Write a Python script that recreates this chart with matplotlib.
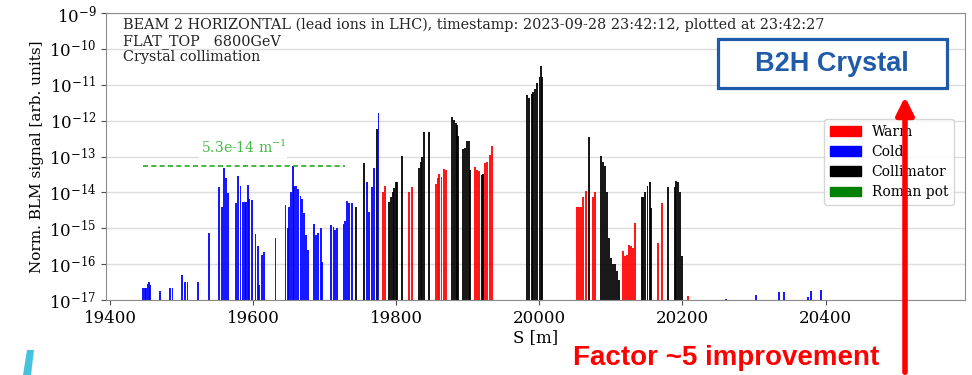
import matplotlib
matplotlib.use("Agg")
import matplotlib.pyplot as plt
from matplotlib.patches import Patch, Rectangle, Polygon, FancyArrowPatch

plt.rcParams['font.family'] = ['DejaVu Serif']
plt.rcParams['mathtext.fontset'] = 'dejavuserif'

# BLM losses along the ring: position S [m] and normalised signal
cold_s = [19446, 19448, 19450, 19452, 19454, 19456, 19470, 19484, 19487, 19500,
          19505, 19508, 19523, 19538, 19552, 19556, 19559, 19562, 19565, 19576,
          19579, 19582, 19586, 19588, 19590, 19592, 19594, 19598, 19603, 19606,
          19608, 19612, 19615, 19631, 19645, 19648, 19650, 19653, 19655, 19657,
          19660, 19663, 19666, 19668, 19671, 19674, 19676, 19685, 19688, 19691,
          19695, 19696, 19709, 19712, 19714, 19717, 19726, 19728, 19731, 19734,
          19738, 19759, 19762, 19766, 19769, 19775, 20261, 20303, 20335, 20342,
          20375, 20380, 20394]
cold_v = [2.2e-17, 2.2e-17, 2.2e-17, 2.8e-17, 3.2e-17, 2.6e-17, 1.8e-17, 2.2e-17, 2.2e-17, 5e-17,
          3.2e-17, 3.2e-17, 3.2e-17, 7.4e-16, 1.4e-14, 4e-15, 4.8e-14, 2.5e-14, 9.5e-15, 5e-15,
          2.9e-14, 1.5e-14, 5.4e-15, 5.4e-15, 5.4e-15, 1.6e-14, 6.6e-15, 6.3e-15, 6.9e-16, 3.2e-16,
          2.6e-17, 1.8e-16, 2.2e-16, 5.4e-16, 4.5e-15, 1e-15, 4e-15, 1e-14, 5.5e-14, 1.5e-14,
          1.5e-14, 1.26e-14, 7.9e-15, 6.6e-15, 2.7e-15, 6.6e-16, 2.5e-16, 1.3e-15, 6.6e-16, 7.4e-16,
          1e-15, 1.15e-16, 1.26e-15, 1.1e-15, 9e-16, 1e-15, 1.3e-15, 1.6e-15, 5.8e-15, 5.2e-15,
          5e-15, 1.9e-14, 2.9e-15, 1.45e-14, 4.7e-14, 1.6e-12, 1.1e-17, 1.4e-17, 1.7e-17, 1.7e-17,
          1.2e-17, 1.8e-17, 1.9e-17]

warm_s = [19781, 19784, 19818, 19822, 19855, 19858, 19860, 19863, 19867, 19869,
          19910, 19913, 19916, 19924, 19927, 19931, 19934, 20052, 20055, 20058,
          20061, 20065, 20075, 20078, 20117, 20120, 20123, 20125, 20128, 20131,
          20134, 20166, 20171, 20208]
warm_v = [1e-14, 1.5e-14, 1e-14, 1.45e-14, 1.7e-14, 2.5e-14, 3.3e-14, 2.75e-14, 4.5e-14, 4.3e-14,
          5.1e-14, 4.3e-14, 4e-14, 6.6e-14, 7.1e-14, 1.1e-13, 2e-13, 4e-15, 3.8e-15, 3.8e-15,
          7.4e-15, 1.1e-14, 7.4e-15, 1.05e-14, 2.3e-16, 1.7e-16, 1.8e-16, 3.5e-16, 3.2e-16, 2.8e-16,
          1.4e-15, 4e-16, 5e-15, 1.26e-17]

coll_s = [19744, 19755, 19773, 19790, 19793, 19795, 19797, 19800, 19801, 19808,
          19832, 19835, 19836, 19839, 19845, 19878, 19881, 19883, 19885, 19886,
          19893, 19896, 19899, 19901, 19903, 19920, 19921, 19983, 19986, 19990,
          19991, 19994, 19997, 20000, 20002, 20004, 20069, 20086, 20089, 20092,
          20095, 20097, 20100, 20103, 20106, 20109, 20111, 20143, 20145, 20148,
          20151, 20154, 20156, 20180, 20190, 20191, 20194, 20196, 20199]
coll_v = [4e-15, 6.6e-14, 5.9e-13, 5.4e-15, 7.4e-15, 1e-14, 1.3e-14, 1.9e-14, 2e-14, 1.05e-13,
          4.7e-14, 7.1e-14, 1e-13, 4.9e-13, 4.9e-13, 1.26e-12, 1.05e-12, 8.5e-13, 7.4e-13, 3.8e-13,
          1.6e-13, 1.7e-13, 2.7e-13, 2.7e-13, 4.3e-14, 3.1e-14, 3.2e-14, 5.2e-12, 4.2e-12, 5.4e-12,
          6.3e-12, 7.6e-12, 1.1e-11, 1.7e-11, 3.3e-11, 1.7e-11, 3.5e-13, 1.05e-13, 7.1e-14, 5.5e-14,
          1.05e-14, 5.4e-16, 1.5e-16, 1e-16, 1e-16, 6.3e-17, 3.6e-17, 7.4e-15, 7.4e-15, 1.05e-14,
          1.5e-14, 1.9e-14, 3.7e-15, 1.45e-14, 1.45e-14, 2.1e-14, 1.9e-14, 1.05e-14, 1.7e-16]

threshold = 5.3e-14
threshold_s = [19446, 19728]

header = ["BEAM 2 HORIZONTAL (lead ions in LHC), timestamp: 2023-09-28 23:42:12, plotted at 23:42:27",
          "FLAT_TOP   6800GeV",
          "Crystal collimation"]

fig = plt.figure(figsize=(9.72, 3.75), dpi=100)
ax = fig.add_axes([106 / 972, 0.2, 859 / 972, 0.765])

ax.bar(cold_s, cold_v, width=2.6, color='blue', alpha=0.9, zorder=2)
ax.bar(warm_s, warm_v, width=2.6, color='red', alpha=0.9, zorder=2)
ax.bar(coll_s, coll_v, width=2.6, color='black', alpha=0.9, zorder=2)

ax.hlines(threshold, threshold_s[0], threshold_s[1], colors='#22aa22',
          linestyles=(0, (3, 2)), linewidth=1.2, zorder=3)
ax.text(19586, 1.75e-13, '5.3e-14 m$^{-1}$', color='#44bb44', fontsize=10,
        ha='center', va='center', zorder=3,
        bbox=dict(facecolor='white', edgecolor='none', pad=1))

ax.set_yscale('log')
ax.set_ylim(1e-17, 1e-9)
ax.set_xlim(19394, 20595)
ax.set_yticks([10.0 ** e for e in range(-17, -8)])
ax.minorticks_off()
ax.set_xticks([19400, 19600, 19800, 20000, 20200, 20400])
ax.tick_params(labelsize=12, color='0.3')
ax.grid(axis='y', color='#dddddd', linewidth=1, zorder=0)
ax.set_axisbelow(True)
for sp in ax.spines.values():
    sp.set_color('0.55')

ax.set_xlabel('S [m]', fontsize=12, labelpad=2)
ax.set_ylabel('Norm. BLM signal [arb. units]', fontsize=11)

for i, line in enumerate(header):
    ax.text(0.02, 0.985 - i * 0.057, line, transform=ax.transAxes, va='top', ha='left',
            fontsize=10.4, color='#222222')

handles = [Patch(color='red'), Patch(color='blue'), Patch(color='black'), Patch(color='green')]
ax.legend(handles, ['Warm', 'Cold', 'Collimator', 'Roman pot'], loc='upper right',
          bbox_to_anchor=(0.995, 0.655), fontsize=10, handlelength=2.2, labelspacing=0.45)

# overlay annotations
fig.add_artist(Rectangle((718 / 972, 1 - 88 / 375), 229 / 972, 49 / 375,
                         transform=fig.transFigure, facecolor='white',
                         edgecolor='#1f5ba8', linewidth=2.3, zorder=5))
fig.text(832 / 972, 1 - 64 / 375, 'B2H Crystal', color='#1f5ba8', fontsize=19.5,
         fontweight='bold', family='Liberation Sans', ha='center', va='center', zorder=6)

fig.add_artist(FancyArrowPatch((905 / 972, 0.0), (905 / 972, 1 - 94 / 375),
                               transform=fig.transFigure, arrowstyle='-|>',
                               mutation_scale=26, color='red', linewidth=4, zorder=5))

fig.text(726 / 972, 1 - 358 / 375, 'Factor ~5 improvement', color='red', fontsize=20,
         fontweight='bold', family='Liberation Sans', ha='center', va='center')

fig.add_artist(Polygon([(23 / 972, 0.0), (27 / 972, 1 - 350 / 375),
                        (34 / 972, 1 - 350 / 375), (31 / 972, 0.0)],
                       closed=True, transform=fig.transFigure,
                       facecolor='#45c3dc', edgecolor='none'))

fig.savefig('out.png', dpi=100)
